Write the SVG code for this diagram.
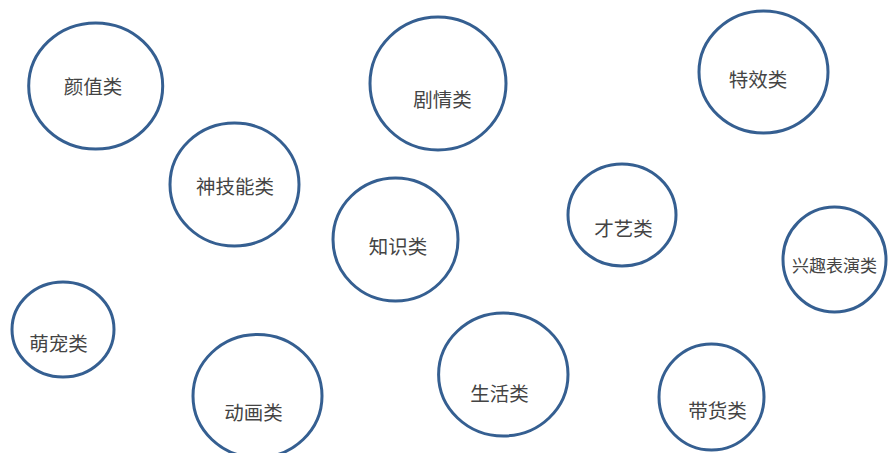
<svg xmlns="http://www.w3.org/2000/svg" width="894" height="453" viewBox="0 0 894 453">
<style>
.n{fill:#ffffff;stroke:#355F91;stroke-width:3}
.t{font-family:"Noto Sans CJK SC","Noto Sans",sans-serif;font-size:19.5px;fill:#444444;text-anchor:middle;dominant-baseline:central}
.s{font-size:17px}
</style>
<rect width="894" height="453" fill="#ffffff"/>
<g id="connectors"></g>
<g id="yanzhi"><ellipse class="n" cx="95.7" cy="86" rx="67" ry="63"/><text class="t" x="93" y="85">颜值类</text></g>
<g id="juqing"><ellipse class="n" cx="438" cy="83.5" rx="68" ry="66.5"/><text class="t" x="442.5" y="98.5">剧情类</text></g>
<g id="texiao"><ellipse class="n" cx="763.5" cy="72" rx="64.5" ry="61"/><text class="t" x="758" y="78">特效类</text></g>
<g id="shenjineng"><ellipse class="n" cx="234.5" cy="184.5" rx="64.5" ry="61.5"/><text class="t" x="235" y="185.5">神技能类</text></g>
<g id="zhishi"><ellipse class="n" cx="395.5" cy="239.5" rx="62.5" ry="61.5"/><text class="t" x="398" y="245.5">知识类</text></g>
<g id="caiyi"><ellipse class="n" cx="622" cy="215" rx="54" ry="51"/><text class="t" x="623.5" y="227.5">才艺类</text></g>
<g id="xingqu"><ellipse class="n" cx="834.5" cy="259.5" rx="51.5" ry="52.5"/><text class="t s" x="834.5" y="264.5">兴趣表演类</text></g>
<g id="mengchong"><ellipse class="n" cx="63" cy="329.5" rx="51" ry="47.5"/><text class="t" x="58.5" y="342.5">萌宠类</text></g>
<g id="donghua"><ellipse class="n" cx="257.5" cy="396" rx="64.5" ry="61.5"/><text class="t" x="253.5" y="411">动画类</text></g>
<g id="shenghuo"><ellipse class="n" cx="503.3" cy="374.5" rx="64.7" ry="61.5"/><text class="t" x="499.5" y="392.5">生活类</text></g>
<g id="daihuo"><ellipse class="n" cx="711.5" cy="397" rx="52.5" ry="53"/><text class="t" x="717.5" y="409.5">带货类</text></g>
</svg>
